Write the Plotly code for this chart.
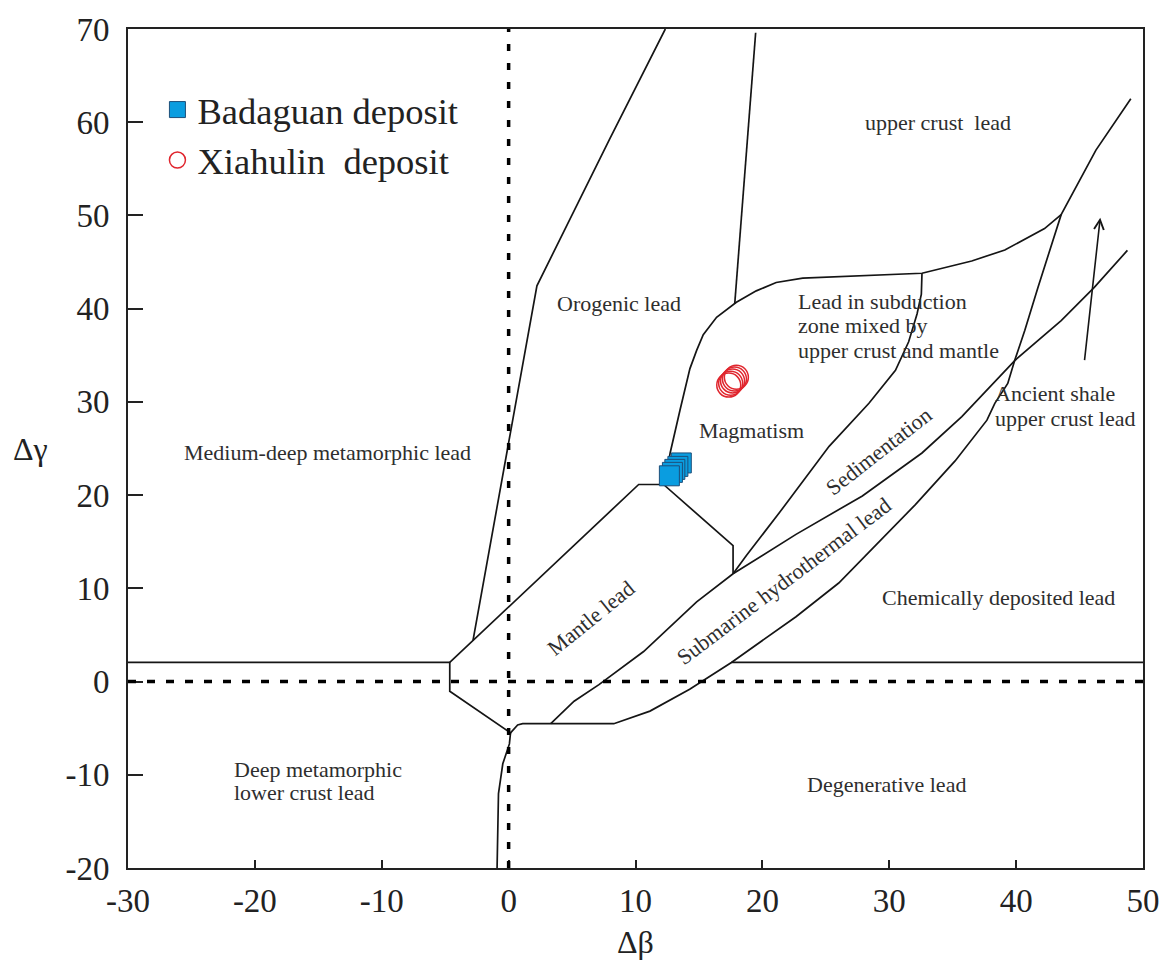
import plotly.graph_objects as go

SERIF = "Liberation Serif, Times New Roman, serif"
LINE_COLOR = "#151515"
TEXT_COLOR = "#2e2e2e"

# Measured samples
badaguan_db = [13.61, 13.34, 13.10, 12.91, 12.67]
badaguan_dg = [23.45, 23.08, 22.76, 22.44, 22.07]
xiahulin_db = [17.35, 17.50, 17.65, 17.80, 17.95]
xiahulin_dg = [31.80, 32.00, 32.25, 32.45, 32.65]

# Field boundaries of the Δβ-Δγ genetic classification diagram
lower_left_db = [-30, -4.64, -4.64, 0.15, 0.06, -0.46, -0.80, -0.91]
lower_left_dg = [2.05, 2.05, -1.04, -5.51, -6.69, -8.82, -12.01, -20]

hydro_lower_db = [0.15, 0.71, 1.11, 8.29, 11.14, 14.27, 17.56, 22.65, 26.02, 29.16, 32.06,
                  35.19, 37.70, 38.32, 39.34, 39.89, 40.68, 41.72, 42.63, 43.55, 46.29, 49.04]
hydro_lower_dg = [-5.51, -4.66, -4.52, -4.52, -3.17, -0.83, 2.05, 6.95, 10.57, 14.94, 18.98,
                  23.67, 28.04, 29.85, 31.98, 34.46, 37.65, 42.28, 46.17, 50.08, 57.01, 62.51]

chem_upper_db = [17.56, 50]
chem_upper_dg = [2.05, 2.05]

hydro_upper_db = [3.32, 5.16, 7.12, 10.64, 14.82, 17.69, 22.65, 27.88, 32.58, 35.72, 39.89,
                  43.55, 46.16, 48.77]
hydro_upper_dg = [-4.52, -2.11, -0.33, 3.22, 8.54, 11.56, 15.79, 19.91, 24.52, 28.43, 34.43,
                  38.72, 42.28, 46.25]

sed_upper_db = [17.69, 18.74, 21.35, 25.26, 28.40, 30.49, 31.53, 32.19, 32.53, 32.58]
sed_upper_dg = [11.56, 13.52, 18.13, 25.23, 29.85, 33.39, 36.45, 39.43, 41.56, 43.80]

magma_db = [12.31, 12.73, 13.51, 14.29, 14.82, 15.34, 16.39, 17.95, 19.52, 21.09, 23.18,
            32.58, 36.50, 39.11, 42.24, 43.55]
magma_dg = [21.14, 24.52, 29.13, 33.57, 35.52, 37.20, 39.08, 40.68, 41.91, 42.81, 43.27,
            43.80, 45.11, 46.30, 48.59, 50.08]

mantle_db = [-4.64, 10.25, 12.21, 17.69, 17.69]
mantle_dg = [2.05, 21.14, 21.14, 14.58, 11.56]

orogen_db = [-2.81, 2.23, 7.98, 12.35]
orogen_dg = [4.40, 42.45, 58.25, 70]

crust_div_db = [19.47, 18.74, 17.82]
crust_div_dg = [69.6, 56.47, 40.50]

trend_tail = (45.38, 34.32)
trend_head = (46.63, 49.76)

x_ticks = [-30, -20, -10, 0, 10, 20, 30, 40, 50]
x_tick_text = ["-30", "-20", "-10", "0", "10", "20", "30", "40", "50"]
y_ticks = [-20, -10, 0, 10, 20, 30, 40, 50, 60, 70]
y_tick_text = ["-20", "-10", "0", "10", "20", "30", "40", "50", "60", "70"]

# Field names: (text, Δβ, Δγ, anchor, angle)
field_labels = [
    ("upper crust  lead", 33.82, 59.67, "center", 0),
    ("Orogenic lead", 8.67, 40.18, "center", 0),
    ("Lead in subduction", 22.65, 40.50, "left", 0),
    ("zone mixed by", 22.65, 37.83, "left", 0),
    ("upper crust and mantle", 22.65, 35.17, "left", 0),
    ("Magmatism", 19.13, 26.65, "center", 0),
    ("Medium-deep metamorphic lead", -14.25, 24.20, "center", 0),
    ("Mantle lead", 6.46, 6.41, "center", -39),
    ("Submarine hydrothermal lead", 21.64, 10.46, "center", -37),
    ("Sedimentation", 29.12, 24.41, "center", -38),
    ("Ancient shale", 38.17, 30.59, "left", 0),
    ("upper crust lead", 38.17, 27.93, "left", 0),
    ("Chemically deposited lead", 38.64, 8.65, "center", 0),
    ("Deep metamorphic", -21.77, -9.77, "left", 0),
    ("lower crust lead", -21.77, -12.23, "left", 0),
    ("Degenerative lead", 29.78, -11.37, "center", 0),
]

fig = go.Figure()

boundaries = [
    (lower_left_db, lower_left_dg),
    (hydro_lower_db, hydro_lower_dg),
    (chem_upper_db, chem_upper_dg),
    (hydro_upper_db, hydro_upper_dg),
    (sed_upper_db, sed_upper_dg),
    (magma_db, magma_dg),
    (mantle_db, mantle_dg),
    (orogen_db, orogen_dg),
    (crust_div_db, crust_div_dg),
]
for bx, by in boundaries:
    fig.add_trace(go.Scatter(
        x=bx, y=by, mode="lines",
        line=dict(color=LINE_COLOR, width=1.7),
        showlegend=False, hoverinfo="skip",
    ))

fig.add_trace(go.Scatter(
    x=badaguan_db, y=badaguan_dg, mode="markers", name="Badaguan deposit",
    marker=dict(symbol="square", size=20, color="#0a9de0",
                line=dict(color="#1d4f7a", width=1)),
))
fig.add_trace(go.Scatter(
    x=xiahulin_db, y=xiahulin_dg, mode="markers", name="Xiahulin\u00a0 deposit",
    marker=dict(symbol="circle-open", size=24, color="#e0262e",
                line=dict(color="#e0262e", width=1.5)),
))

annotations = []
for text, ax_, ay_, anchor, angle in field_labels:
    annotations.append(dict(
        x=ax_, y=ay_, xref="x", yref="y", text=text, showarrow=False,
        xanchor=anchor, yanchor="middle", textangle=angle, yshift=3,
        font=dict(family=SERIF, size=22, color=TEXT_COLOR),
    ))

# trend arrow
annotations.append(dict(
    x=trend_head[0], y=trend_head[1], ax=trend_tail[0], ay=trend_tail[1],
    xref="x", yref="y", axref="x", ayref="y", text="",
    showarrow=True, arrowhead=5, arrowsize=1.2, arrowwidth=1.6, arrowcolor=LINE_COLOR,
))

# axis titles
annotations.append(dict(
    x=0.5, y=0, xref="paper", yref="paper", yshift=-74, text="Δβ", showarrow=False,
    xanchor="center", yanchor="middle", font=dict(family=SERIF, size=32, color="#222"),
))
annotations.append(dict(
    x=0, y=0.5, xref="paper", yref="paper", xshift=-98, text="Δγ", showarrow=False,
    xanchor="center", yanchor="middle", font=dict(family=SERIF, size=32, color="#222"),
))

shapes = [
    dict(type="line", xref="x", yref="paper", x0=0, x1=0, y0=0, y1=1,
         line=dict(color="#000", width=3.5, dash="7px,12px")),
    dict(type="line", xref="paper", yref="y", x0=0, x1=1, y0=0, y1=0,
         line=dict(color="#000", width=3.5, dash="8px,11px")),
]

axis_common = dict(
    showgrid=False, zeroline=False, showline=True, mirror=True,
    linecolor="#222", linewidth=2, ticks="inside", tickwidth=1.6, tickcolor="#222",
    tickfont=dict(family=SERIF, size=33, color="#222"),
)

fig.update_layout(
    width=1172, height=965,
    margin=dict(l=128, r=23, t=23, b=97),
    paper_bgcolor="white", plot_bgcolor="white",
    xaxis=dict(range=[-30, 50], tickvals=x_ticks, ticktext=x_tick_text, ticklen=8,
               ticklabelstandoff=2, **axis_common),
    yaxis=dict(range=[-20, 70], tickvals=y_ticks, ticktext=y_tick_text, ticklen=15,
               ticklabelstandoff=10, **axis_common),
    legend=dict(x=0.029, y=0.94, xanchor="left", yanchor="top",
                font=dict(family=SERIF, size=36.5, color="#222"),
                bgcolor="rgba(0,0,0,0)", itemsizing="trace", tracegroupgap=0),
    annotations=annotations,
    shapes=shapes,
)

fig.write_html("out.html")
